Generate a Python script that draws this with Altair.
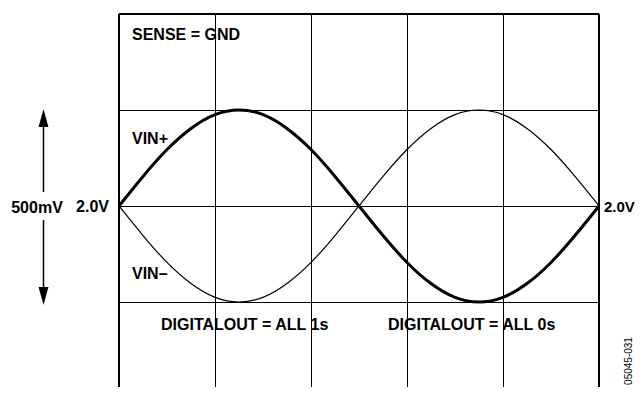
import altair as alt
import pandas as pd

# horizontal position in grid divisions, vertical in volts (250 mV / div)
x_div = [0, 0.25, 0.5, 0.75, 1.0, 1.25, 1.5, 1.75, 2.0, 2.25, 2.5,
         2.75, 3.0, 3.25, 3.5, 3.75, 4.0, 4.25, 4.5, 4.75, 5.0]
vin_plus = [2.0, 2.077, 2.147, 2.202, 2.238, 2.25, 2.238, 2.202, 2.147, 2.077, 2.0,
            1.923, 1.853, 1.798, 1.762, 1.75, 1.762, 1.798, 1.853, 1.923, 2.0]
vin_minus = [2.0, 1.923, 1.853, 1.798, 1.762, 1.75, 1.762, 1.798, 1.853, 1.923, 2.0,
             2.077, 2.147, 2.202, 2.238, 2.25, 2.238, 2.202, 2.147, 2.077, 2.0]
x_grid = [1, 2, 3, 4]
y_grid = [1.75, 2.0, 2.25]
x_frame = [0, 5]
y_top = 2.5
y_ref = 2.0

df = pd.DataFrame({
    "x": x_div * 2,
    "v": vin_plus + vin_minus,
    "series": ["VIN+"] * len(x_div) + ["VIN-"] * len(x_div),
})

FONT = "Liberation Sans"
FS = 16

xs = alt.Scale(domain=[0, 5], nice=False, zero=False)
ys = alt.Scale(domain=[1.5286, 2.5], nice=False, zero=False)

X = alt.X("x:Q", scale=xs, axis=alt.Axis(values=x_grid, grid=True, labels=False,
                                          ticks=False, domain=False, title=None))
Y = alt.Y("v:Q", scale=ys, axis=alt.Axis(values=y_grid, grid=True, labels=False,
                                          ticks=False, domain=False, title=None))

base = alt.Chart(df)
thick = base.transform_filter(alt.datum.series == "VIN+").mark_line(
    interpolate="natural", color="black", strokeWidth=3).encode(x=X, y=Y)
thin = base.transform_filter(alt.datum.series == "VIN-").mark_line(
    interpolate="natural", color="black", strokeWidth=1.2).encode(x=X, y=Y)

frame_v = alt.Chart(pd.DataFrame({"x": x_frame})).mark_rule(
    color="black", strokeWidth=2).encode(x=alt.X("x:Q", scale=xs))
frame_t = alt.Chart(pd.DataFrame({"v": [y_top]})).mark_rule(
    color="black", strokeWidth=2).encode(y=alt.Y("v:Q", scale=ys))

dummy = alt.Data(values=[{}])


def label(text, x, y, align="left", size=FS, weight="bold", angle=0):
    kw = dict(text=text, align=align, baseline="middle", font=FONT,
              fontSize=size, fontWeight=weight, color="black")
    if angle:
        kw["angle"] = angle
    return alt.Chart(dummy).mark_text(**kw).encode(x=alt.value(x), y=alt.value(y))


ref_left = alt.Chart(pd.DataFrame({"v": [y_ref]})).mark_text(
    text="2.0V", align="right", baseline="middle", font=FONT, fontSize=FS,
    fontWeight="bold", dx=-10, dy=1, color="black").encode(
    x=alt.value(0), y=alt.Y("v:Q", scale=ys))
ref_right = alt.Chart(pd.DataFrame({"v": [y_ref]})).mark_text(
    text="2.0V", align="left", baseline="middle", font=FONT, fontSize=15,
    fontWeight="bold", dx=5, dy=1, color="black").encode(
    x=alt.value(480), y=alt.Y("v:Q", scale=ys))

arrow_up = alt.Chart(dummy).mark_rule(color="black", strokeWidth=1.5).encode(
    x=alt.value(-75.5), y=alt.value(112), y2=alt.value(178))
arrow_dn = alt.Chart(dummy).mark_rule(color="black", strokeWidth=1.5).encode(
    x=alt.value(-75.5), y=alt.value(206), y2=alt.value(276))
head_up = alt.Chart(dummy).mark_point(
    shape="M0,-1L0.55,1L-0.55,1Z", filled=True, color="black", opacity=1,
    size=324).encode(x=alt.value(-75.5), y=alt.value(104))
head_dn = alt.Chart(dummy).mark_point(
    shape="M0,1L0.55,-1L-0.55,-1Z", filled=True, color="black", opacity=1,
    size=324).encode(x=alt.value(-75.5), y=alt.value(282))

chart = alt.layer(
    thin, thick, frame_v, frame_t,
    ref_left, ref_right,
    arrow_up, arrow_dn, head_up, head_dn,
    label("SENSE = GND", 13, 21),
    label("VIN+", 13, 125),
    label("VIN\u2013", 13, 260),
    label("DIGITALOUT = ALL 1s", 42, 311),
    label("DIGITALOUT = ALL 0s", 269, 311),
    label("500mV", -82, 194, align="center"),
    label("05045-031", 510, 347, align="center", size=10, weight="normal", angle=270),
).properties(
    width=480, height=373,
    autosize=alt.AutoSizeParams(type="none"),
    padding={"left": 111, "top": 6, "right": 36, "bottom": 0},
).configure_view(stroke=None).configure_axis(
    gridColor="black", gridWidth=1, gridOpacity=1
)

chart.save("out.html", embed_options={"renderer": "svg", "actions": False})
